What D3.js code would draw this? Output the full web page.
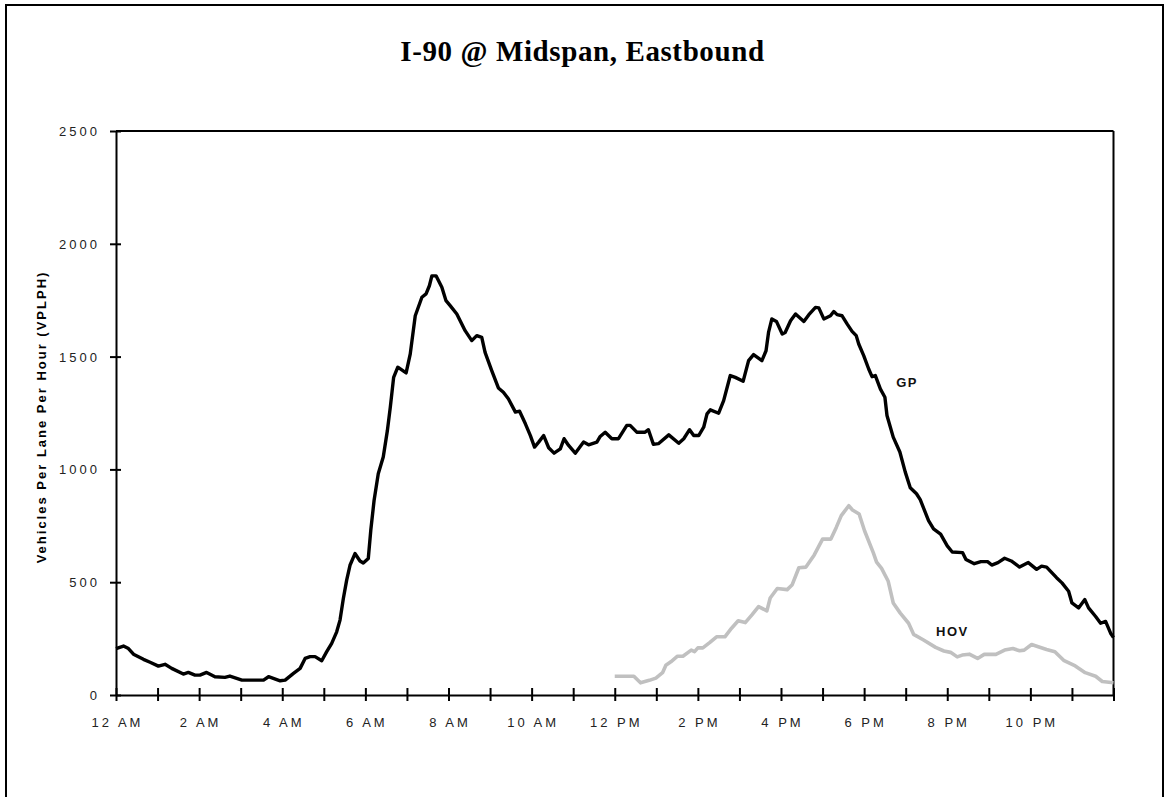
<!DOCTYPE html>
<html><head><meta charset="utf-8">
<script src="https://cdn.jsdelivr.net/npm/d3@7"></script>
<style>body{margin:0;background:#fff;overflow:hidden} svg{display:block}</style>
</head><body><svg id="c" width="1165" height="797"></svg>
<script>
const chartTitle = "I-90 @ Midspan, Eastbound";
const yAxisTitle = "Vehicles Per Lane Per Hour (VPLPH)";
const yTicks = [0, 500, 1000, 1500, 2000, 2500];
const xTickHours = [0,1,2,3,4,5,6,7,8,9,10,11,12,13,14,15,16,17,18,19,20,21,22,23,24];
const xLabelHours = [0, 2, 4, 6, 8, 10, 12, 14, 16, 18, 20, 22];
const xLabels = ["12 AM","2 AM","4 AM","6 AM","8 AM","10 AM","12 PM","2 PM","4 PM","6 PM","8 PM","10 PM"];

const gpHours = [0,0.18,0.30,0.42,0.66,0.82,1.02,1.18,1.34,1.62,
1.74,1.90,2.02,2.18,2.38,2.62,2.74,3.03,3.55,3.67,
3.95,4.07,4.27,4.43,4.55,4.67,4.79,4.95,5.07,5.19,
5.31,5.39,5.47,5.55,5.63,5.75,5.87,5.95,6.07,6.13,
6.21,6.31,6.43,6.53,6.60,6.68,6.78,6.98,7.08,7.20,
7.36,7.46,7.54,7.60,7.70,7.84,7.94,8.04,8.20,8.40,
8.56,8.68,8.80,8.88,9.04,9.20,9.32,9.44,9.61,9.71,
9.85,9.97,10.07,10.17,10.29,10.41,10.54,10.69,10.78,10.89,
11.05,11.25,11.37,11.57,11.65,11.77,11.93,12.09,12.29,12.37,
12.53,12.73,12.81,12.93,13.05,13.30,13.54,13.66,13.80,13.90,
14.02,14.14,14.22,14.30,14.50,14.62,14.78,14.90,15.09,15.22,
15.34,15.54,15.64,15.70,15.78,15.89,16.03,16.10,16.23,16.35,
16.55,16.67,16.83,16.91,17.03,17.19,17.27,17.35,17.47,17.59,
17.71,17.81,17.87,17.99,18.11,18.19,18.27,18.39,18.50,18.55,
18.70,18.86,18.99,19.11,19.26,19.35,19.55,19.67,19.84,20.00,
20.12,20.37,20.45,20.65,20.81,20.97,21.07,21.22,21.38,21.54,
21.74,21.95,22.15,22.27,22.39,22.63,22.76,22.92,23.00,23.16,
23.31,23.40,23.57,23.69,23.81,23.93,24.00];
const gpValues = [206,217,206,181,158,145,128,136,118,93,
100,88,88,100,81,78,84,66,66,81,
63,66,96,118,162,170,170,152,192,229,
280,332,428,509,575,627,594,585,605,730,
863,981,1055,1173,1276,1408,1453,1428,1512,1681,
1763,1778,1814,1858,1858,1807,1748,1726,1689,1615,
1571,1593,1585,1519,1438,1361,1342,1313,1254,1258,
1202,1150,1099,1121,1150,1096,1072,1091,1136,1106,
1072,1121,1109,1121,1146,1165,1136,1136,1195,1195,
1165,1165,1176,1111,1114,1153,1116,1136,1176,1150,
1150,1187,1246,1264,1249,1305,1416,1408,1391,1482,
1509,1482,1526,1607,1667,1656,1600,1607,1659,1689,
1656,1686,1718,1716,1667,1681,1700,1686,1681,1645,
1612,1593,1556,1504,1445,1411,1416,1357,1320,1239,
1143,1077,988,919,892,866,773,736,713,661,
634,631,601,582,591,591,576,587,606,594,
567,587,557,571,567,520,497,460,408,386,
423,386,348,318,326,274,255];

const hovHours = [12.00,12.46,12.62,12.83,12.99,13.15,13.23,13.35,13.51,13.64,
13.84,13.92,14.00,14.12,14.29,14.45,14.65,14.81,14.97,15.14,
15.30,15.46,15.66,15.74,15.91,16.15,16.27,16.43,16.60,16.80,
17.00,17.20,17.33,17.45,17.63,17.72,17.88,18.01,18.22,18.30,
18.42,18.58,18.70,18.87,19.07,19.19,19.43,19.72,19.92,20.08,
20.24,20.36,20.53,20.73,20.89,21.17,21.38,21.58,21.74,21.85,
22.03,22.19,22.39,22.59,22.80,23.08,23.32,23.57,23.73,24.00];
const hovValues = [83,83,54,65,75,99,132,147,172,172,
199,192,209,209,233,258,258,296,329,321,
355,392,373,430,472,467,489,564,567,621,
691,691,743,795,839,820,802,728,631,589,
561,504,408,363,318,269,244,211,195,189,
169,177,181,162,180,180,199,206,196,199,
224,214,202,192,154,129,99,83,60,54];

const seriesLabels = [
  {name: "GP", hour: 18.77, value: 1364},
  {name: "HOV", hour: 19.73, value: 261}
];

const svg = d3.select("#c");
const L = 116, R = 1113.5, T = 131, B = 695;
const x = d3.scaleLinear().domain([0, 24]).range([L, R]);
const y = d3.scaleLinear().domain([0, 2500]).range([B, T]);

// outer frame
svg.append("rect").attr("x", 6).attr("y", 5).attr("width", 1157).attr("height", 820)
  .attr("fill", "none").attr("stroke", "#000").attr("stroke-width", 2);

// title
svg.append("text").attr("x", 582.5).attr("y", 61).attr("text-anchor", "middle")
  .style("font-family", "'Liberation Serif','Times New Roman',serif")
  .style("font-weight", "bold").style("font-size", "29px").style("letter-spacing", "0.6px")
  .text(chartTitle);

// plot frame (top and right)
svg.append("line").attr("x1", L).attr("x2", R).attr("y1", T).attr("y2", T)
  .attr("stroke", "#000").attr("stroke-width", 2);
svg.append("line").attr("x1", R).attr("x2", R).attr("y1", T).attr("y2", B)
  .attr("stroke", "#000").attr("stroke-width", 2);

const tickFont = "'Liberation Sans',Arial,sans-serif";

// y axis
const yAx = svg.append("g").attr("transform", `translate(${L},0)`)
  .call(d3.axisLeft(y).tickValues(yTicks).tickSizeInner(6).tickSizeOuter(0).tickPadding(10).tickFormat(d3.format("d")));
yAx.select(".domain").attr("stroke-width", 2);
yAx.selectAll(".tick line").attr("x1", 5).attr("x2", -6).attr("stroke-width", 2);
yAx.selectAll(".tick text").style("font-family", tickFont).style("font-size", "13px")
  .style("letter-spacing", "3px").attr("fill", "#222").attr("dy", "0.35em");

// x axis
const xAx = svg.append("g").attr("transform", `translate(0,${B})`)
  .call(d3.axisBottom(x).tickValues(xTickHours).tickSizeInner(6).tickSizeOuter(0).tickFormat(""));
xAx.select(".domain").attr("stroke-width", 2);
xAx.selectAll(".tick line").attr("y1", -7).attr("y2", 6).attr("stroke-width", 2);

svg.append("g").selectAll("text").data(xLabelHours).join("text")
  .attr("x", d => x(d) + 1.5).attr("y", 727).attr("text-anchor", "middle")
  .style("font-family", tickFont).style("font-size", "13px").style("letter-spacing", "3px")
  .attr("fill", "#222").text((d, i) => xLabels[i]);

// y axis title
svg.append("text").attr("transform", "translate(45.5,417) rotate(-90)")
  .attr("text-anchor", "middle")
  .style("font-family", tickFont).style("font-weight", "bold").style("font-size", "13px")
  .style("letter-spacing", "2px").attr("fill", "#000").text(yAxisTitle);

// lines
const line = d3.line().x(d => x(d[0])).y(d => y(d[1]));
const hovData = hovHours.map((h, i) => [h, hovValues[i]]);
const gpData = gpHours.map((h, i) => [h, gpValues[i]]);

svg.append("path").datum(hovData).attr("d", line).attr("fill", "none")
  .attr("stroke", "#c0c0c0").attr("stroke-width", 3.6).attr("stroke-linejoin", "round");
svg.append("path").datum(gpData).attr("d", line).attr("fill", "none")
  .attr("stroke", "#000").attr("stroke-width", 3.4).attr("stroke-linejoin", "round");

// series labels
svg.append("g").selectAll("text").data(seriesLabels).join("text")
  .attr("x", d => x(d.hour)).attr("y", d => y(d.value))
  .style("font-family", tickFont).style("font-weight", "bold").style("font-size", "13px")
  .style("letter-spacing", "1.5px").attr("fill", "#111").text(d => d.name);
</script>
</body></html>
